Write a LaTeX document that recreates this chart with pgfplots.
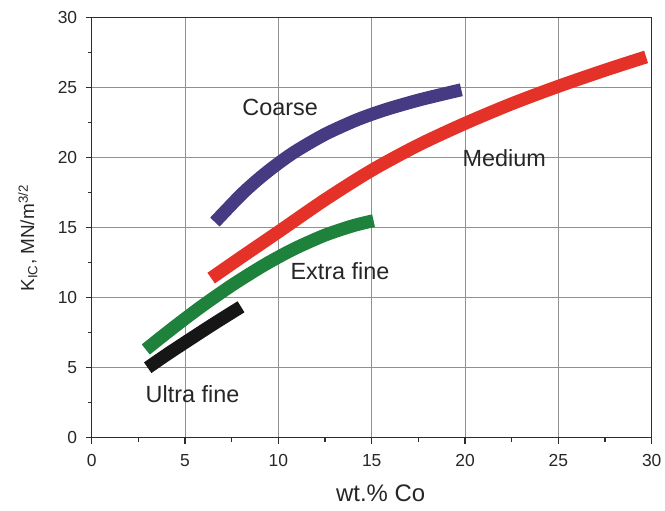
\documentclass[border=0pt]{standalone}
\usepackage{pgfplots}
\pgfplotsset{compat=1.18}
\usepackage{fontspec}
\setmainfont{Liberation Sans}
\definecolor{cCoarse}{RGB}{70,58,130}
\definecolor{cMedium}{RGB}{229,50,41}
\definecolor{cExtra}{RGB}{30,130,60}
\definecolor{cUltra}{RGB}{22,22,22}
\definecolor{gridc}{RGB}{145,145,145}
\definecolor{axc}{RGB}{45,45,45}
\begin{document}
\begin{tikzpicture}
\begin{axis}[
  at={(0,0)}, anchor=south west,
  scale only axis, width=560bp, height=420bp,
  xmin=0, xmax=30, ymin=0, ymax=30,
  xtick={0,5,...,30}, ytick={0,5,...,30},
  minor tick num=1,
  tick align=outside,
  xtick pos=bottom, ytick pos=left,
  major tick length=6bp, minor tick length=4bp,
  tick style={axc, line width=1.2bp},
  axis line style={axc, line width=1.5bp},
  grid=major,
  major grid style={gridc, line width=0.9bp},
  /pgf/number format/assume math mode=true,
  ticklabel style={font=\fontsize{17.5}{20}\selectfont, text=black!85},
  xticklabel style={yshift=-7bp},
  yticklabel style={xshift=-5bp},
  xlabel={wt.\% Co},
  xlabel style={font=\fontsize{24}{28}\selectfont, text=black!85, at={(axis description cs:0.516,-0.132)}, anchor=center},
  ylabel={K\textsubscript{IC}, MN/m\textsuperscript{3/2}},
  ylabel style={font=\fontsize{19}{22}\selectfont, text=black!85, at={(axis description cs:-0.114,0.475)}, anchor=center},
  every axis plot/.append style={line width=13bp, smooth, no markers},
  clip=false,
]
\addplot[cCoarse] coordinates {(6.6,15.4) (8,17.35) (9,18.55) (10,19.6) (11,20.52) (12.5,21.67) (14,22.59) (15,23.1) (16,23.54) (17.5,24.11) (19,24.6) (19.8,24.85)};
\addplot[cMedium] coordinates {(6.4,11.4) (8,12.88) (10,14.7) (12.5,17.0) (15,19.1) (17.5,20.9) (20,22.45) (22.5,23.85) (25,25.1) (27.5,26.25) (29.7,27.2)};
\addplot[cExtra] coordinates {(2.9,6.3) (4,7.47) (5,8.5) (6,9.49) (7.5,10.88) (9,12.14) (10,12.9) (11,13.59) (12.5,14.47) (14,15.14) (15.1,15.5)};
\addplot[cUltra] coordinates {(3,5.0) (4,5.92) (5,6.8) (6.5,8.1) (8,9.35)};
\node[font=\fontsize{23.5}{26}\selectfont, text=black!85] at (axis cs:10.1,23.6) {Coarse};
\node[font=\fontsize{23.5}{26}\selectfont, text=black!85] at (axis cs:22.1,20.0) {Medium};
\node[font=\fontsize{23.5}{26}\selectfont, text=black!85] at (axis cs:13.3,11.9) {Extra fine};
\node[font=\fontsize{23.5}{26}\selectfont, text=black!85] at (axis cs:5.4,3.1) {Ultra fine};
\end{axis}
\path[use as bounding box] (-91.7bp,-73.3bp) rectangle (573.3bp,437.7bp);
\end{tikzpicture}
\end{document}
